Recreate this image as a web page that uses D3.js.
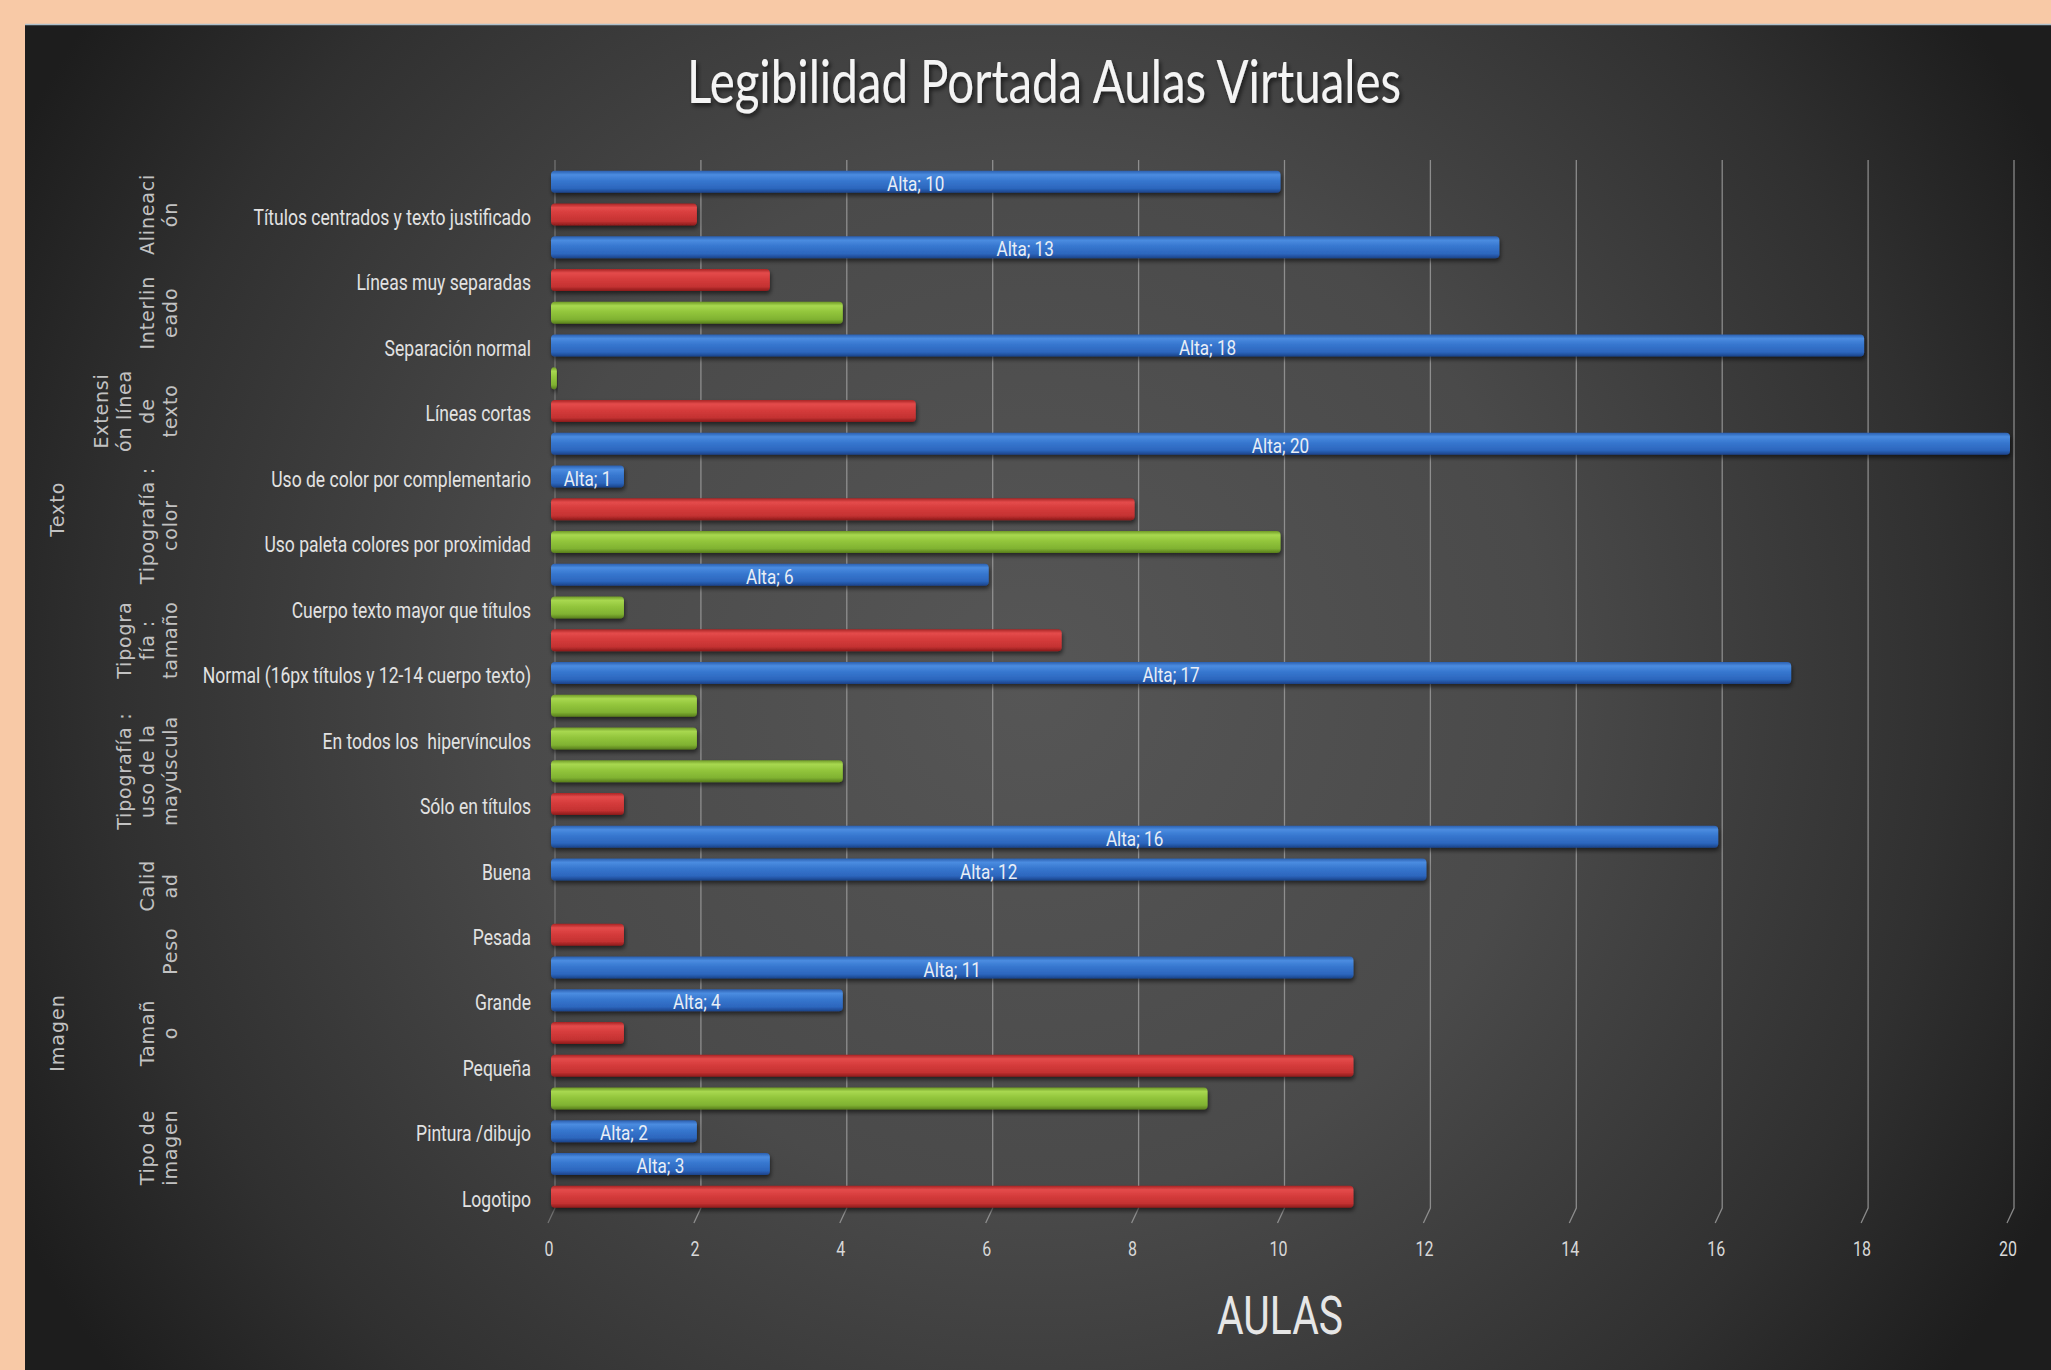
<!DOCTYPE html>
<html><head><meta charset="utf-8">
<script src="https://cdn.jsdelivr.net/npm/d3@7"></script>
<style>html,body{margin:0;padding:0;background:#f8c9a6;overflow:hidden;} svg{display:block;} text{white-space:pre;}</style>
</head><body>
<svg id="chart" width="2051" height="1370"></svg>
<script>
// ---------- DATA ----------
const chartTitle = "Legibilidad Portada Aulas Virtuales";
const axisTitle = "AULAS";
const seriesNames = ["Alta", "Media", "Baja"];
const rowLabels = ["", "Títulos centrados y texto justificado", "", "Líneas muy separadas", "", "Separación normal", "", "Líneas cortas", "", "Uso de color por complementario", "", "Uso paleta colores por proximidad", "", "Cuerpo texto mayor que títulos", "", "Normal (16px títulos y 12-14 cuerpo texto)", "", "En todos los  hipervínculos", "", "Sólo en títulos", "", "Buena", "", "Pesada", "", "Grande", "", "Pequeña", "", "Pintura /dibujo", "", "Logotipo"];
const rowSeries = ["Alta","Baja","Alta","Baja","Media","Alta","Media","Baja","Alta","Alta","Baja","Media","Alta","Media","Baja","Alta","Media","Media","Media","Baja","Alta","Alta",null,"Baja","Alta","Alta","Baja","Baja","Media","Alta","Alta","Baja"];
const rowValues = [10,2,13,3,4,18,0.08,5,20,1,8,10,6,1,7,17,2,2,4,1,16,12,null,1,11,4,1,11,9,2,3,11];
const groupLines = [["Alineaci","ón"],["Interlin","eado"],["Extensi","ón línea","de","texto"],["Tipografía :","color"],["Tipogra","fía :","tamaño"],["Tipografía :","uso de la","mayúscula"],["Calid","ad"],["Peso"],["Tamañ","o"],["Tipo de","imagen"]];
const groupSizes = [3,3,3,4,3,5,2,2,3,4];
const topGroupNames = ["Texto", "Imagen"];
const topGroupSizes = [21, 11];
const xTicks = [0,2,4,6,8,10,12,14,16,18,20];

// ---------- STYLE ----------
const W = 2051, H = 1370;
const colors = {
  Alta:  {top:"#2a5fb0", hi:"#4b8ce0", mid:"#3777cf", low:"#2c66bd", bot:"#1b4288"},
  Media: {top:"#6f9a26", hi:"#a8d850", mid:"#93c63c", low:"#80b232", bot:"#587d1c"},
  Baja:  {top:"#a82424", hi:"#e44b4b", mid:"#d63c3c", low:"#c43232", bot:"#8a1a1a"}
};
const condFont = "Roboto, 'Liberation Sans', sans-serif";

const svg = d3.select("#chart");
const defs = svg.append("defs");

const bg = defs.append("radialGradient").attr("id","bgGrad")
  .attr("gradientUnits","userSpaceOnUse").attr("cx",1030).attr("cy",680).attr("r",1150);
[[0,"#565656"],[0.45,"#4a4a4a"],[0.8,"#303030"],[1,"#1d1d1d"]].forEach(s=>bg.append("stop").attr("offset",s[0]).attr("stop-color",s[1]));

seriesNames.forEach(s=>{
  const c = colors[s];
  const g = defs.append("linearGradient").attr("id","g"+s).attr("x1",0).attr("y1",0).attr("x2",0).attr("y2",1);
  [[0,c.top],[0.18,c.hi],[0.45,c.mid],[0.8,c.low],[1,c.bot]].forEach(st=>g.append("stop").attr("offset",st[0]).attr("stop-color",st[1]));
});
const sh = defs.append("filter").attr("id","shadow").attr("x","-5%").attr("y","-50%").attr("width","110%").attr("height","220%");
sh.append("feDropShadow").attr("dx",1).attr("dy",3).attr("stdDeviation",2).attr("flood-color","#000").attr("flood-opacity",0.55);
const tsh = defs.append("filter").attr("id","tshadow").attr("x","-5%").attr("y","-30%").attr("width","110%").attr("height","160%");
tsh.append("feDropShadow").attr("dx",2).attr("dy",3).attr("stdDeviation",2).attr("flood-color","#000").attr("flood-opacity",0.6);

// panel
svg.append("rect").attr("x",0).attr("y",0).attr("width",W).attr("height",H).attr("fill","#f8c9a6");
svg.append("rect").attr("x",25).attr("y",24).attr("width",W-25).attr("height",H-24).attr("fill","url(#bgGrad)");
svg.append("line").attr("x1",25).attr("x2",W).attr("y1",24.5).attr("y2",24.5).attr("stroke","#aebfca").attr("stroke-width",1.5);

// scales
const x = d3.scaleLinear().domain([0,20]).range([551,2010]);
const y = d3.scalePoint().domain(d3.range(rowValues.length)).range([181.8,1196.8]);
const barH = 22;

// gridlines (slight 3D offset)
const grid = svg.append("g");
xTicks.forEach(t=>{
  const gx = x(t)+4;
  grid.append("path").attr("d",`M${gx},160 L${gx},1208 L${gx-7},1223`)
    .attr("fill","none").attr("stroke", t===0 ? "#7a7a7a" : "#9a9a9a").attr("stroke-width",1.3).attr("opacity",0.85);
});

// tick labels
const tickG = svg.append("g");
const condense = 0.815;
xTicks.forEach(t=>{
  tickG.append("text").attr("transform",`translate(${x(t)-2},1256) scale(0.8,1)`)
    .attr("text-anchor","middle").attr("font-family",condFont).attr("font-size",20).attr("fill","#d8d8d8").text(t);
});

// bars
const rows = d3.range(rowValues.length).filter(i=>rowValues[i]!=null);
svg.append("g").selectAll("rect").data(rows).join("rect")
  .attr("x", x(0)).attr("y", i=>y(i)-barH/2)
  .attr("width", i=>Math.max(3, x(rowValues[i])-x(0))).attr("height", barH)
  .attr("rx",4).attr("ry",4)
  .attr("fill", i=>`url(#g${rowSeries[i]})`).attr("filter","url(#shadow)");

// data labels (series Alta)
svg.append("g").selectAll("text").data(rows.filter(i=>rowSeries[i]==="Alta")).join("text")
  .attr("transform", i=>`translate(${(x(0)+x(rowValues[i]))/2},${y(i)+2}) scale(${condense},1)`)
  .attr("text-anchor","middle").attr("dominant-baseline","central")
  .attr("font-family",condFont).attr("font-size",21).attr("fill","#e8eef6")
  .text(i=>`${rowSeries[i]}; ${rowValues[i]}`);

// category labels
svg.append("g").selectAll("text").data(d3.range(rowLabels.length).filter(i=>rowLabels[i]!=="")).join("text")
  .attr("transform", i=>`translate(531,${y(i)+3}) scale(${condense},1)`)
  .attr("text-anchor","end").attr("dominant-baseline","central")
  .attr("font-family",condFont).attr("font-size",21.5).attr("fill","#e2e2e2")
  .text(i=>rowLabels[i]);

// level-2 group labels
let start = 0;
const gG = svg.append("g");
groupSizes.forEach((n,gi)=>{
  const cy = (y(start)+y(start+n-1))/2;
  const lines = groupLines[gi];
  lines.forEach((ln,li)=>{
    const cx = 170 - (lines.length-1-li)*23;
    gG.append("text").attr("transform",`translate(${cx},${cy}) rotate(-90)`)
      .attr("text-anchor","middle").attr("dominant-baseline","central")
      .attr("font-family","'DejaVu Sans', Verdana, sans-serif").attr("font-size",19).attr("letter-spacing",0.8)
      .attr("fill","#c2c2c2").text(ln);
  });
  start += n;
});
// level-1 group labels
start = 0;
topGroupSizes.forEach((n,gi)=>{
  const cy = (y(start)+y(start+n-1))/2;
  gG.append("text").attr("transform",`translate(57,${cy}) rotate(-90)`)
    .attr("text-anchor","middle").attr("dominant-baseline","central")
    .attr("font-family","'DejaVu Sans', Verdana, sans-serif").attr("font-size",19).attr("letter-spacing",1)
    .attr("fill","#c2c2c2").text(topGroupNames[gi]);
  start += n;
});

// title
svg.append("text").attr("x",1044).attr("y",103).attr("text-anchor","middle")
  .attr("font-family","Lato, 'Open Sans', sans-serif").attr("font-size",60).attr("fill","#f4f4f4")
  .attr("textLength",714).attr("lengthAdjust","spacingAndGlyphs").attr("filter","url(#tshadow)")
  .text(chartTitle);

// axis title
svg.append("text").attr("x",1280).attr("y",1334).attr("text-anchor","middle")
  .attr("font-family",condFont).attr("font-size",54).attr("fill","#e6e6e6")
  .attr("textLength",126).attr("lengthAdjust","spacingAndGlyphs")
  .text(axisTitle);
</script>
</body></html>
